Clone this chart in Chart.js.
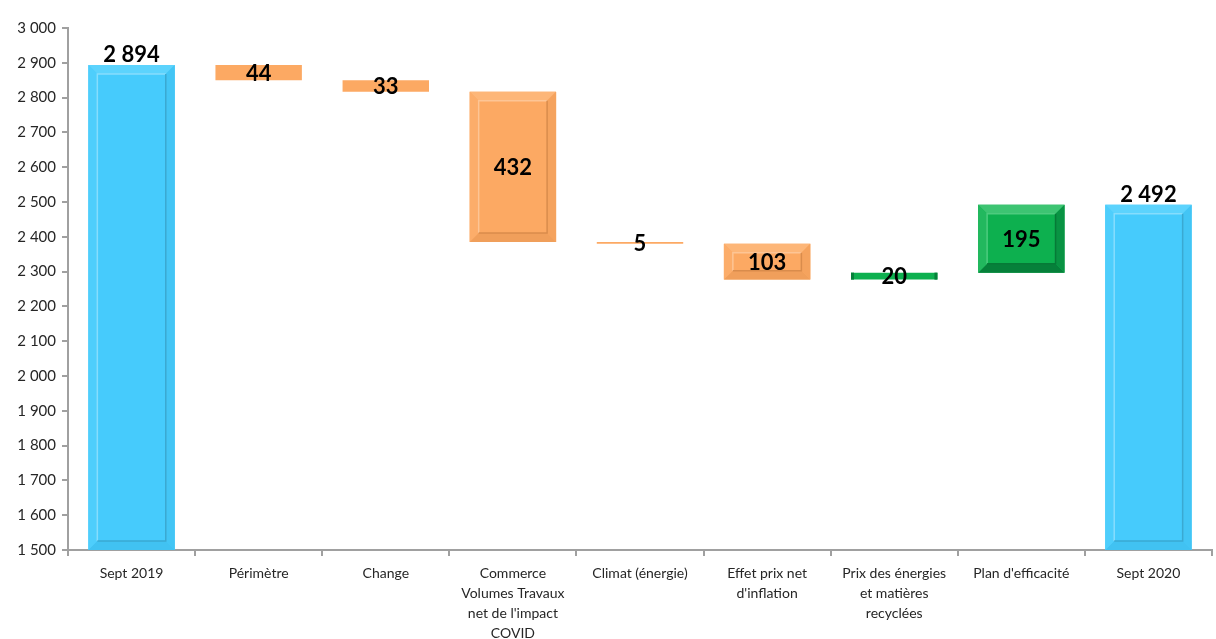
<!DOCTYPE html>
<html>
<head>
<meta charset="utf-8">
<script src="https://cdn.jsdelivr.net/npm/chart.js@4/dist/chart.umd.min.js"></script>
<style>
  html, body { margin: 0; padding: 0; background: #fff; }
  #wrap { width: 1216px; height: 639px; }
</style>
</head>
<body>
<div id="wrap"><canvas id="myChart" width="1216" height="639"></canvas></div>
<script>
// values
var categories = [
  'Sept 2019',
  'Périmètre',
  'Change',
  ['Commerce', 'Volumes Travaux', "net de l'impact", 'COVID'],
  'Climat (énergie)',
  ['Effet prix net', "d'inflation"],
  ['Prix des énergies', 'et matières', 'recyclées'],
  "Plan d'efficacité",
  'Sept 2020'
];
var startValue = 2894;
var changes = [-44, -33, -432, -5, -103, 20, 195];
var endValue = 2492;
var yMin = 1500, yMax = 3000, yStep = 100;

var BLUE = '#46CBFC', ORANGE = '#FCA963', GREEN = '#0DB04F';

// build floating bars [low, high]
var bars = [[yMin, startValue]];
var colors = [BLUE];
var labels = [startValue];
var level = startValue;
changes.forEach(function(d){
  var next = level + d;
  bars.push([Math.min(level, next), Math.max(level, next)]);
  colors.push(d < 0 ? ORANGE : GREEN);
  labels.push(Math.abs(d));
  level = next;
});
bars.push([yMin, endValue]);
colors.push(BLUE);
labels.push(endValue);

function fmt(v){
  return String(v).replace(/\B(?=(\d{3})+(?!\d))/g, ' ');
}

var shades = {};
shades[BLUE] = { top: '#5CD3FD', left: '#4ECEFC', right: '#43C5F5', bottom: '#41C2F2', light: '#86DDFD', line: '#3AA9D2' };
shades[ORANGE] = { top: '#FDB678', left: '#FCAD6A', right: '#F5A35E', bottom: '#F09F5B', light: '#FDC595', line: '#D98C4C' };
shades[GREEN] = { top: '#3DC472', left: '#22B85E', right: '#099343', bottom: '#06803A', light: '#4DCB7E', line: '#067A37' };

// bevel look + value labels
var barDecor = {
  id: 'barDecor',
  afterDatasetsDraw: function(chart){
    var ctx = chart.ctx;
    var meta = chart.getDatasetMeta(0);
    meta.data.forEach(function(bar, i){
      var p = bar.getProps(['x', 'y', 'base', 'width'], true);
      var l = p.x - p.width / 2, r = p.x + p.width / 2;
      var t = Math.min(p.y, p.base), b = Math.max(p.y, p.base);
      var h = b - t;
      var s = shades[colors[i]];
      ctx.save();
      if (h > 22) {
        var d = Math.min(9, h / 4);
        var poly = function(pts, c){
          ctx.beginPath();
          ctx.moveTo(pts[0][0], pts[0][1]);
          for (var k = 1; k < pts.length; k++) ctx.lineTo(pts[k][0], pts[k][1]);
          ctx.closePath();
          ctx.fillStyle = c;
          ctx.fill();
        };
        poly([[l, t], [r, t], [r - d, t + d], [l + d, t + d]], s.top);
        poly([[l, b], [r, b], [r - d, b - d], [l + d, b - d]], s.bottom);
        poly([[l, t], [l + d, t + d], [l + d, b - d], [l, b]], s.left);
        poly([[r, t], [r - d, t + d], [r - d, b - d], [r, b]], s.right);
        ctx.lineWidth = 1.5;
        ctx.strokeStyle = s.light;
        ctx.beginPath();
        ctx.moveTo(l + d, b - d);
        ctx.lineTo(l + d, t + d);
        ctx.lineTo(r - d, t + d);
        ctx.stroke();
        ctx.strokeStyle = s.line;
        ctx.beginPath();
        ctx.moveTo(l + d, b - d);
        ctx.lineTo(r - d, b - d);
        ctx.lineTo(r - d, t + d);
        ctx.stroke();
      } else if (colors[i] === GREEN) {
        ctx.fillStyle = s.bottom;
        ctx.fillRect(l, t, 3, h);
        ctx.fillRect(r - 3, t, 3, h);
      }
      // value label
      ctx.fillStyle = '#000';
      ctx.font = 'bold 22px Lato, "Open Sans", sans-serif';
      ctx.textAlign = 'center';
      if (colors[i] === BLUE) {
        ctx.textBaseline = 'bottom';
        ctx.fillText(fmt(labels[i]), p.x, t + 1);
      } else {
        ctx.textBaseline = 'middle';
        ctx.fillText(fmt(labels[i]), p.x, (t + b) / 2 + 1);
      }
      ctx.restore();
    });
  }
};

var ctx = document.getElementById('myChart').getContext('2d');
var chart = new Chart(ctx, {
  type: 'bar',
  data: {
    labels: categories,
    datasets: [{
      data: bars,
      backgroundColor: colors,
      borderWidth: 0,
      borderSkipped: false,
      categoryPercentage: 1,
      barPercentage: 0.68
    }]
  },
  options: {
    responsive: false,
    animation: false,
    layout: { padding: { top: 28, right: 4, left: 0, bottom: 0 } },
    plugins: {
      legend: { display: false },
      tooltip: { enabled: false }
    },
    scales: {
      x: {
        afterFit: function(scale){ scale.height = 89; },
        grid: {
          display: true,
          drawOnChartArea: false,
          drawTicks: true,
          tickLength: 6,
          color: '#A0A0A0',
          lineWidth: 2
        },
        border: { display: true, color: '#A0A0A0', width: 2 },
        ticks: {
          color: '#262626',
          font: { family: 'Lato, "Open Sans", sans-serif', size: 14, lineHeight: 1.42 },
          padding: 8,
          maxRotation: 0,
          autoSkip: false
        }
      },
      y: {
        min: yMin,
        max: yMax,
        afterFit: function(scale){ scale.width = 68; },
        grid: {
          display: true,
          drawOnChartArea: false,
          drawTicks: true,
          tickLength: 6,
          color: '#A0A0A0',
          lineWidth: 2
        },
        border: { display: true, color: '#A0A0A0', width: 2 },
        ticks: {
          stepSize: yStep,
          color: '#262626',
          font: { family: 'Lato, "Open Sans", sans-serif', size: 15 },
          padding: 6,
          callback: function(v){ return fmt(v); }
        }
      }
    }
  },
  plugins: [barDecor]
});
</script>
</body>
</html>
